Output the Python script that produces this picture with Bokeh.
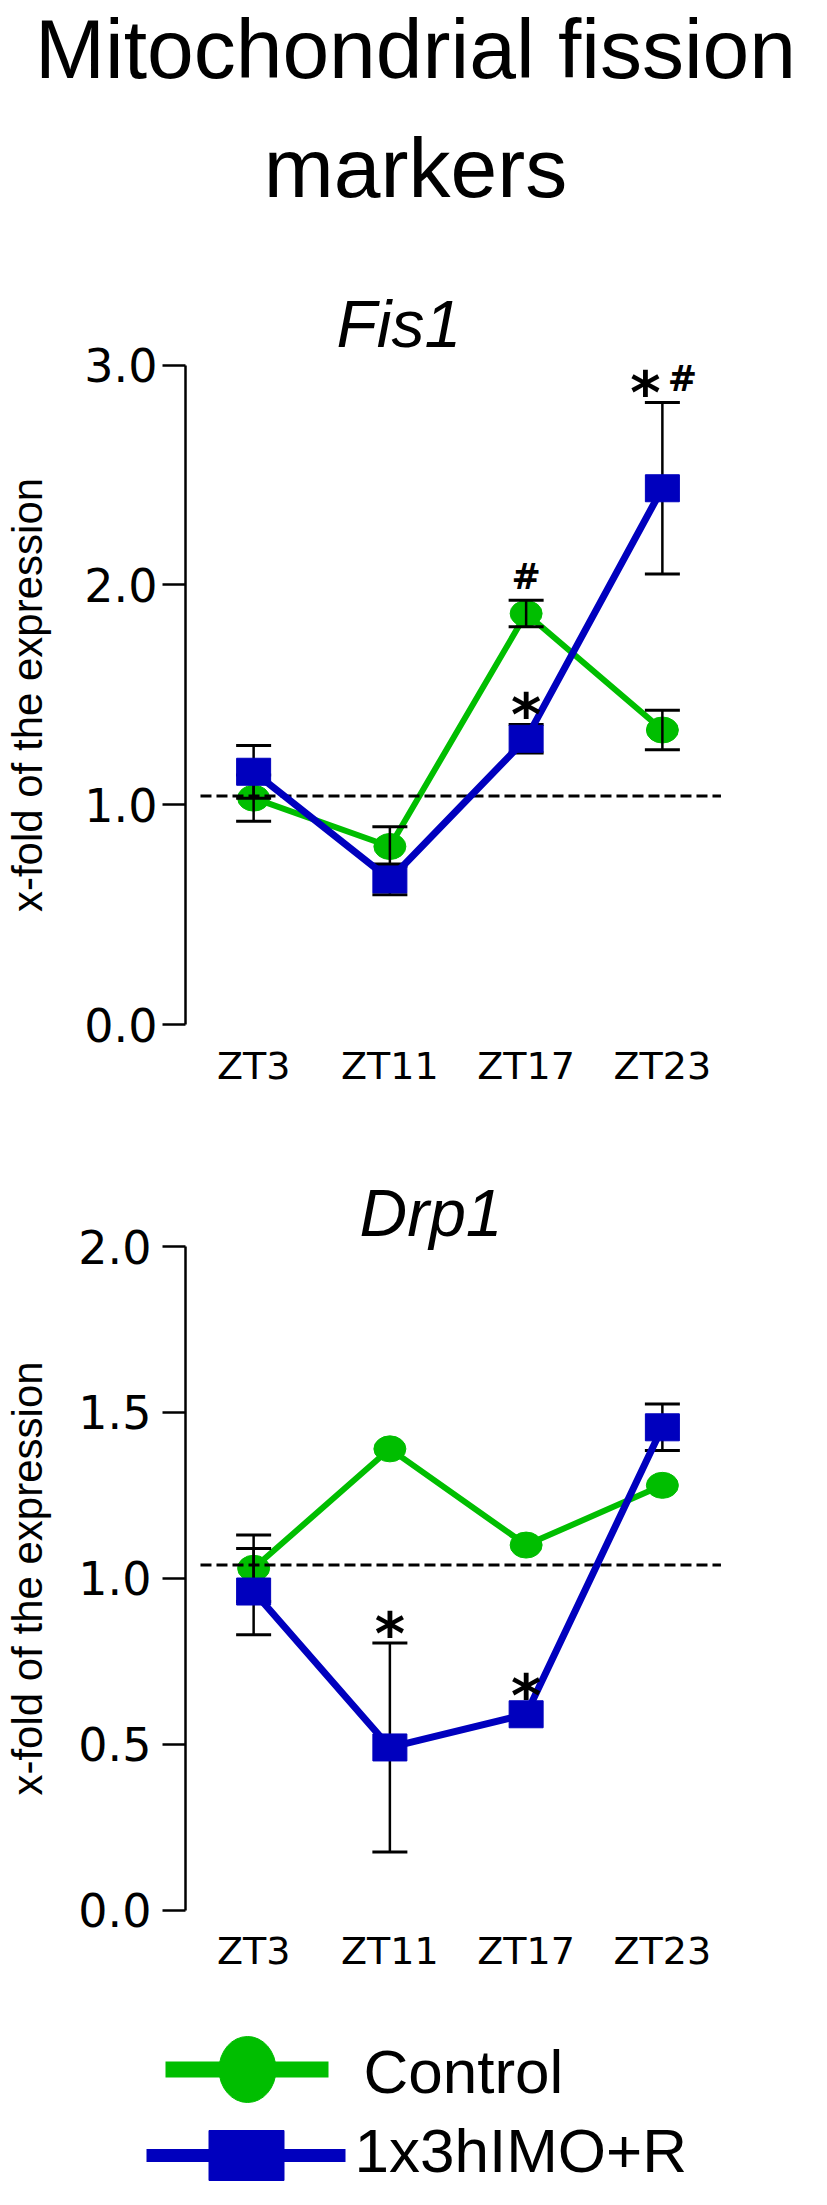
from bokeh.plotting import figure
from bokeh.models import (Range1d, FixedTicker, PrintfTickFormatter, ColumnDataSource,
                          LinearAxis)
from bokeh.core.properties import value
from bokeh.embed import file_html
from bokeh.resources import INLINE

# ---------------- data ----------------
categories = ["ZT3", "ZT11", "ZT17", "ZT23"]
series_names = ["Control", "1x3hIMO+R"]
main_title = ["Mitochondrial fission", "markers"]
panel_titles = ["Fis1", "Drp1"]
y_label = "x-fold of the expression"

fis1_control = [1.03, 0.81, 1.87, 1.34]
fis1_control_err = [0.105, 0.09, 0.06, 0.09]
fis1_imo = [1.15, 0.66, 1.30, 2.44]
fis1_imo_err = [0.12, 0.07, 0.065, 0.39]

drp1_control = [1.03, 1.39, 1.10, 1.28]
drp1_control_err = [0.10, 0.0, 0.0, 0.0]
drp1_imo = [0.96, 0.49, 0.59, 1.455]
drp1_imo_err = [0.13, 0.315, 0.0, 0.07]

reference_level = 1.04
fis1_ticks = [0.0, 1.0, 2.0, 3.0]
drp1_ticks = [0.0, 0.5, 1.0, 1.5, 2.0]

# significance marks: (category, series, symbol)
fis1_marks = [("ZT17", "Control", "#"), ("ZT17", "1x3hIMO+R", "*"),
              ("ZT23", "1x3hIMO+R", "*"), ("ZT23", "1x3hIMO+R", "#")]
drp1_marks = [("ZT11", "1x3hIMO+R", "*"), ("ZT17", "1x3hIMO+R", "*")]

# ---------------- style / layout (page pixels) ----------------
GREEN = "#00BE00"
BLUE = "#0000BE"
SANS = "Liberation Sans"
WIDE = "DejaVu Sans"
W, H = 811, 2188
PAGE_L, PAGE_T = 8, 8
PAGE_R, PAGE_B = PAGE_L + W, PAGE_T + H
AXIS_X = 193.0          # page x of the y axes
STEP = 136.25           # page px per category
SHIFT = 0.38            # em correction for the rendered baseline
MARK_SHIFT = 0.3
PANELS = {
    # name: (page y of value 0, page px per unit, title x, title baseline)
    "fis1": (1032.0, 219.77, 344, 357),
    "drp1": (1917.5, 331.75, 367, 1246),
}


def base(y, size):
    return y - SHIFT * size


p = figure(width=W, height=H, x_range=Range1d(PAGE_L, PAGE_R), y_range=Range1d(PAGE_B, PAGE_T),
           x_axis_type=None, y_axis_type=None, min_border=0,
           output_backend="svg", toolbar_location=None)
p.outline_line_color = None
p.grid.visible = False
p.background_fill_color = "white"
p.border_fill_color = "white"

# category scale: -0.5 sits on the y axis
p.extra_x_ranges["cat"] = Range1d(-0.5 - (AXIS_X - PAGE_L) / STEP, -0.5 + (PAGE_R - AXIS_X) / STEP)
for key, (zero_y, unit, _, _) in PANELS.items():
    p.extra_y_ranges[key] = Range1d((zero_y - PAGE_B) / unit, (zero_y - PAGE_T) / unit)

# ---------------- main title ----------------
TS = 84
p.text(x=[423, 423], y=[base(88, TS), base(207, TS)], text=main_title, text_align="center",
       text_baseline="alphabetic", text_font=value(SANS), text_font_size=f"{TS}px",
       text_color="black")


def panel(key, name, ctrl, ctrl_err, imo, imo_err, ticks, marks, tick_standoff, label_standoff):
    xs = list(range(len(categories)))
    kw = dict(x_range_name="cat", y_range_name=key)
    _, _, tx, ty = PANELS[key]

    p.text(x=[tx], y=[base(ty, 66)], text=[name], text_align="left", text_baseline="alphabetic",
           text_font=value(SANS), text_font_style="italic", text_font_size="66px",
           text_color="black")

    ya = LinearAxis(ticker=FixedTicker(ticks=ticks), formatter=PrintfTickFormatter(format="%.1f"),
                    bounds=(ticks[0], ticks[-1]), fixed_location=-0.5, **kw)
    ya.major_tick_out = 23
    ya.major_tick_in = 0
    ya.major_tick_line_width = 2.5
    ya.major_tick_line_color = "black"
    ya.axis_line_width = 2.5
    ya.axis_line_color = "black"
    ya.minor_tick_line_color = None
    ya.major_label_standoff = tick_standoff
    ya.major_label_text_font = WIDE
    ya.major_label_text_font_size = "46px"
    ya.major_label_text_color = "black"
    ya.axis_label = y_label
    ya.axis_label_text_font = SANS
    ya.axis_label_text_font_style = "normal"
    ya.axis_label_text_font_size = "42px"
    ya.axis_label_text_color = "black"
    ya.axis_label_standoff = label_standoff
    p.add_layout(ya, "left")

    xa = LinearAxis(ticker=FixedTicker(ticks=xs), fixed_location=ticks[0], **kw)
    xa.major_label_overrides = {i: c for i, c in zip(xs, categories)}
    xa.axis_line_color = None
    xa.major_tick_line_color = None
    xa.minor_tick_line_color = None
    xa.major_label_standoff = 13
    xa.major_label_text_font = WIDE
    xa.major_label_text_font_size = "38px"
    xa.major_label_text_color = "black"
    p.add_layout(xa, "below")

    # control series
    p.line(xs, ctrl, line_color=GREEN, line_width=6, **kw)
    p.ellipse(xs, ctrl, width=32, height=26, width_units="screen", height_units="screen",
              fill_color=GREEN, line_color=GREEN, **kw)

    # reference line
    p.line([-0.39, len(categories) - 0.57], [reference_level, reference_level],
           line_color="black", line_width=3, line_dash="11 5", **kw)

    # error bars
    ex, lo, hi = [], [], []
    for vals, errs in ((ctrl, ctrl_err), (imo, imo_err)):
        for x, v, e in zip(xs, vals, errs):
            if e > 0:
                ex.append(x)
                lo.append(v - e)
                hi.append(v + e)
    p.segment(ex, lo, ex, hi, line_color="black", line_width=2.5, **kw)
    p.scatter(ex + ex, lo + hi, marker="dash", size=35, line_color="black", line_width=3, **kw)

    # treatment series
    p.line(xs, imo, line_color=BLUE, line_width=7, **kw)
    p.rect(xs, imo, width=34, height=27, width_units="screen", height_units="screen",
           fill_color=BLUE, line_color=BLUE, **kw)

    # significance marks
    lookup = {"Control": (ctrl, ctrl_err), "1x3hIMO+R": (imo, imo_err)}
    groups = {}
    for cat, ser, sym in marks:
        groups.setdefault((cat, ser), []).append(sym)
    for sym, size, lift in (("*", 58, 21), ("#", 35, 0)):
        mx, my, dx, dy = [], [], [], []
        for cat, ser, s in marks:
            if s != sym:
                continue
            i = categories.index(cat)
            vals, errs = lookup[ser]
            gap = 13 if errs[i] > 0 else 22
            mx.append(i)
            my.append(vals[i] + errs[i])
            both = len(groups[(cat, ser)]) > 1
            dx.append((-17 if sym == "*" else 20) if both else 0)
            dy.append(lift - gap - MARK_SHIFT * size)
        src = ColumnDataSource(dict(x=mx, y=my, dx=dx, dy=dy, t=[sym] * len(mx)))
        p.text(x="x", y="y", text="t", x_offset="dx", y_offset="dy", source=src,
               text_align="center", text_baseline="alphabetic",
               text_font=value(WIDE), text_font_style="bold", text_font_size=f"{size}px",
               text_color="black", **kw)


panel("fis1", panel_titles[0], fis1_control, fis1_control_err, fis1_imo, fis1_imo_err,
      fis1_ticks, fis1_marks, tick_standoff=5, label_standoff=30)
panel("drp1", panel_titles[1], drp1_control, drp1_control_err, drp1_imo, drp1_imo_err,
      drp1_ticks, drp1_marks, tick_standoff=11, label_standoff=24)

# ---------------- legend (page pixels) ----------------
LS = 62
row_y = [2077, 2163]
p.segment([173, 154], row_y, [336, 353], row_y, line_color=[GREEN, BLUE], line_width=[16, 13])
p.ellipse([255], [row_y[0]], width=57, height=66, fill_color=GREEN, line_color=GREEN)
p.rect([254], [row_y[1]], width=75, height=50, fill_color=BLUE, line_color=BLUE)
p.text(x=[371, 362], y=[base(2103, LS), base(2182, LS)], text=series_names, text_align="left",
       text_baseline="alphabetic", text_font=value(SANS), text_font_size=f"{LS}px",
       text_color="black")

open("out.html", "w").write(file_html(p, INLINE))
